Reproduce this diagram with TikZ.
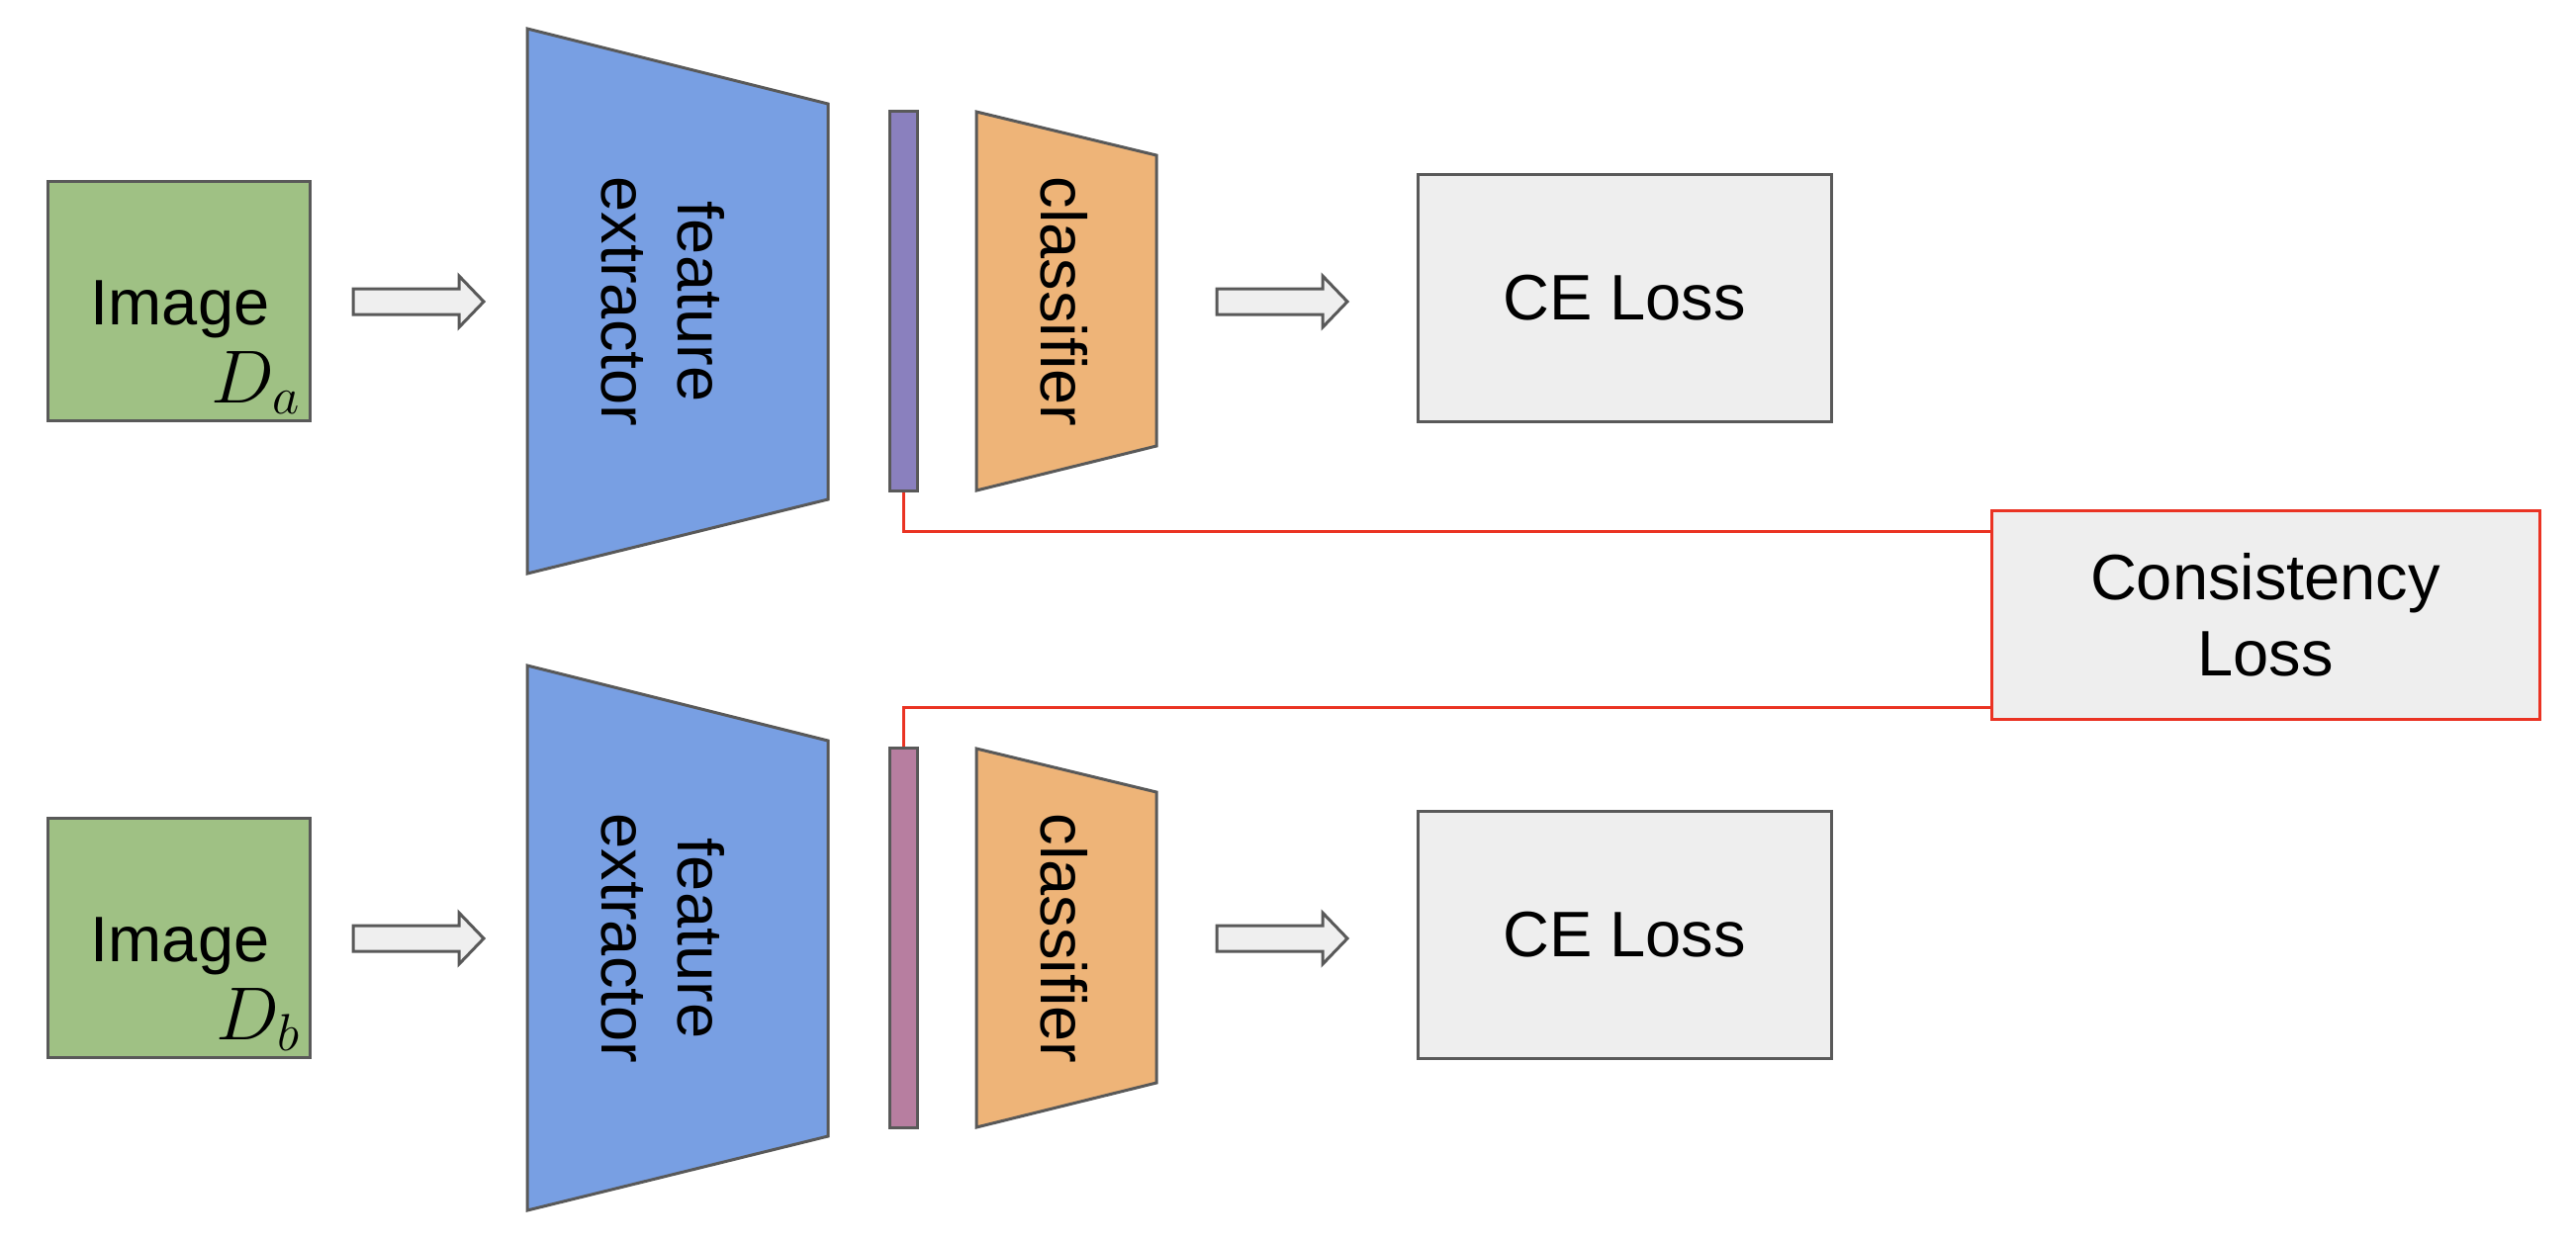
\documentclass[tikz,border=0pt]{standalone}
\usepackage{fontspec}
\setmainfont{Liberation Sans}
\definecolor{strokegray}{HTML}{595959}
\definecolor{imggreen}{HTML}{9FC184}
\definecolor{feblue}{HTML}{789FE3}
\definecolor{barpurple}{HTML}{8A80BE}
\definecolor{barpink}{HTML}{B77EA0}
\definecolor{clsorange}{HTML}{EEB478}
\definecolor{lossgray}{HTML}{EEEEEE}
\definecolor{arrowgray}{HTML}{EFEFEF}
\definecolor{lossred}{HTML}{EA3323}
\begin{document}
\begin{tikzpicture}[x=0.3pt,y=-0.3pt,line join=miter,
  shp/.style={draw=strokegray,line width=0.9pt},
  box/.style={shp,rectangle,inner sep=0pt},
  txt/.style={font=\fontsize{19.5pt}{23pt}\selectfont,align=center},
  lbl/.style={txt,inner sep=0pt},
  blockarrow/.style={shp,fill=arrowgray},
  conn/.style={draw=lossred,line width=0.9pt},
  blockarr/.pic={\draw[blockarrow] (0,-13) -- (107,-13) -- (107,-26) -- (132,0) -- (107,26) -- (107,13) -- (0,13) -- cycle;}]
\useasboundingbox (0,0) rectangle (2604,1256);
\foreach \r/\dy/\barcol in {a/0/barpurple,b/644/barpink}{
  % image
  \node[box,fill=imggreen,minimum width=79.5pt,minimum height=72.6pt] (img\r) at (180.5,304+\dy) {};
  \node[lbl,anchor=base] (imgtxt\r) at (182,328+\dy) {Image};
  \node[inner sep=0pt,anchor=base east,font=\fontsize{20.74pt}{24pt}\selectfont] (dom\r) at (305,407+\dy) {\scalebox{1.1}{$D_\r$}};
  % arrow
  \pic at (357,305+\dy) {blockarr};
  % feature extractor
  \draw[shp,fill=feblue] (533,29+\dy) -- (837,105+\dy) -- (837,505+\dy) -- (533,580+\dy) -- cycle;
  \node[lbl,rotate=-90] (fe\r) at (670,305+\dy) {feature\\extractor};
  % feature bar
  \node[box,fill=\barcol,minimum width=8.4pt,minimum height=115.2pt] (bar\r) at (913,304+\dy) {};
  % classifier
  \draw[shp,fill=clsorange] (987,113+\dy) -- (1169,157+\dy) -- (1169,451+\dy) -- (987,496+\dy) -- cycle;
  \node[lbl,rotate=-90] (cls\r) at (1076,305+\dy) {classifier};
  % arrow
  \pic at (1230,305+\dy) {blockarr};
  % CE loss
  \node[box,txt,fill=lossgray,minimum width=125.4pt,minimum height=75pt] (ce\r) at (1642,301+\dy) {CE Loss};
}
\node[box,txt,draw=lossred,fill=lossgray,minimum width=166.2pt,minimum height=63.3pt] (cons) at (2290,621.5) {Consistency\\Loss};
\coordinate (ctop) at (2013,537);
\coordinate (cbot) at (2013,715);
\draw[conn] (bara.south) |- (ctop);
\draw[conn] (barb.north) |- (cbot);
\end{tikzpicture}
\end{document}
